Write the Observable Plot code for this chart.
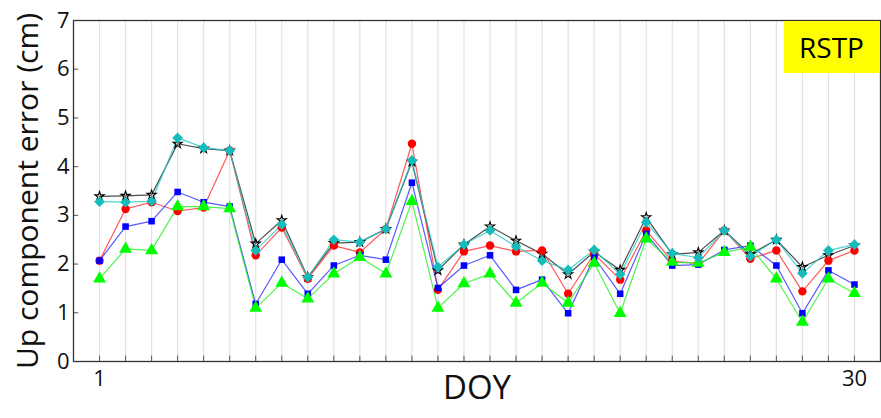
<!DOCTYPE html>
<html>
<head>
<meta charset="utf-8">
<script src="https://cdn.jsdelivr.net/npm/d3@7"></script>
<script src="https://cdn.jsdelivr.net/npm/@observablehq/plot@0.6"></script>
<style>
  html, body { margin: 0; padding: 0; background: #fff; }
  #wrap { position: relative; width: 881px; height: 418px; font-family: "Open Sans", sans-serif; }
  #tag { position: absolute; left: 784px; top: 21px; width: 95px; height: 52px; background: #ffff00;
         display: flex; align-items: center; justify-content: center; font-size: 28px; color: #000; }
</style>
</head>
<body>
<div id="wrap"><div id="tag">RSTP</div></div>
<script>
const days = [1,2,3,4,5,6,7,8,9,10,11,12,13,14,15,16,17,18,19,20,21,22,23,24,25,26,27,28,29,30];
const blackStar = [3.39,3.40,3.42,4.47,4.37,4.33,2.42,2.90,1.73,2.43,2.45,2.72,4.10,1.87,2.40,2.77,2.48,2.21,1.79,2.25,1.88,2.96,2.20,2.24,2.69,2.20,2.50,1.94,2.18,2.38];
const redCircle = [2.07,3.13,3.27,3.09,3.16,4.33,2.18,2.75,1.70,2.38,2.24,2.72,4.47,1.47,2.26,2.38,2.26,2.28,1.39,2.21,1.68,2.69,2.06,2.01,2.69,2.11,2.28,1.44,2.07,2.28];
const blueSquare = [2.07,2.77,2.88,3.48,3.27,3.18,1.18,2.09,1.39,1.97,2.18,2.09,3.67,1.51,1.97,2.18,1.47,1.68,0.99,2.14,1.39,2.62,1.97,1.99,2.29,2.38,1.97,0.99,1.87,1.58];
const greenTriangle = [1.70,2.31,2.28,3.18,3.18,3.14,1.10,1.61,1.29,1.80,2.14,1.80,3.29,1.10,1.60,1.80,1.20,1.61,1.20,2.02,0.99,2.52,2.04,2.02,2.24,2.35,1.70,0.81,1.70,1.40];
const cyanDiamond = [3.28,3.27,3.29,4.59,4.39,4.33,2.28,2.81,1.73,2.50,2.45,2.72,4.13,1.94,2.40,2.69,2.36,2.07,1.88,2.29,1.79,2.86,2.22,2.13,2.69,2.16,2.50,1.81,2.28,2.40];
const yTicks = [0,1,2,3,4,5,6,7];
const xTickLabels = [1, 30];
const xLabel = "DOY";
const yLabel = "Up component error (cm)";

const series = [
  {values: blackStar, symbol: "star", r: 2.9, fill: "none", stroke: "#000", line: "#222"},
  {values: redCircle, symbol: "circle", r: 4.2, fill: "#ff0000", stroke: "none", line: "#ff3030"},
  {values: blueSquare, symbol: "square", r: 3.7, fill: "#0000ff", stroke: "none", line: "#3030ff"},
  {values: greenTriangle, symbol: "triangle", r: 4.8, fill: "#00ff00", stroke: "none", line: "#20f020"},
  {values: cyanDiamond, symbol: "diamond2", r: 4.8, fill: "#14bcbc", stroke: "none", line: "#20c8c8"}
];

const marks = [
  Plot.ruleX(days, {stroke: "#e2e2e2", strokeWidth: 1.2}),
  Plot.ruleX(days, {x: d => d, y1: 0, y2: 0.11, stroke: "#555"}),
  Plot.ruleY(yTicks, {y: d => d, x1: 0, x2: 0.2, stroke: "#555"}),
  Plot.axisY({ticks: yTicks, tickSize: 0, tickPadding: 4, fontSize: 22, label: null, fill: "#111", tickFormat: d3.format("d")}),
  Plot.axisX({ticks: xTickLabels, tickSize: 0, tickPadding: 9, fontSize: 22, label: null, fill: "#111", tickFormat: d3.format("d")}),
  Plot.text([yLabel], {frameAnchor: "left", textAnchor: "middle", rotate: -90, dx: -45, fontSize: 30, fill: "#111"}),
  Plot.text([xLabel], {frameAnchor: "bottom", textAnchor: "middle", dy: 37, fontSize: 33, fill: "#111"})
];
for (const s of series) {
  const data = days.map((d, i) => ({day: d, value: s.values[i]}));
  marks.push(Plot.line(data, {x: "day", y: "value", stroke: s.line, strokeWidth: 1.2, strokeOpacity: 0.8}));
}
for (const s of series) {
  const data = days.map((d, i) => ({day: d, value: s.values[i]}));
  marks.push(Plot.dot(data, {x: "day", y: "value", symbol: () => s.symbol, r: s.r, fill: s.fill, stroke: s.stroke, strokeWidth: 1.1}));
}
marks.push(Plot.frame({stroke: "#333", strokeWidth: 1.3}));

const chart = Plot.plot({
  width: 881,
  height: 418,
  marginLeft: 73,
  marginRight: 1,
  marginTop: 20,
  marginBottom: 57,
  style: {fontFamily: "Open Sans, sans-serif", background: "transparent", overflow: "visible"},
  x: {domain: [0, 31], axis: null},
  y: {domain: [0, 7], axis: null},
  symbol: {type: "identity"},
  marks
});
chart.style.position = "absolute";
chart.style.left = "0";
chart.style.top = "0";
document.getElementById("wrap").prepend(chart);
</script>
</body>
</html>
